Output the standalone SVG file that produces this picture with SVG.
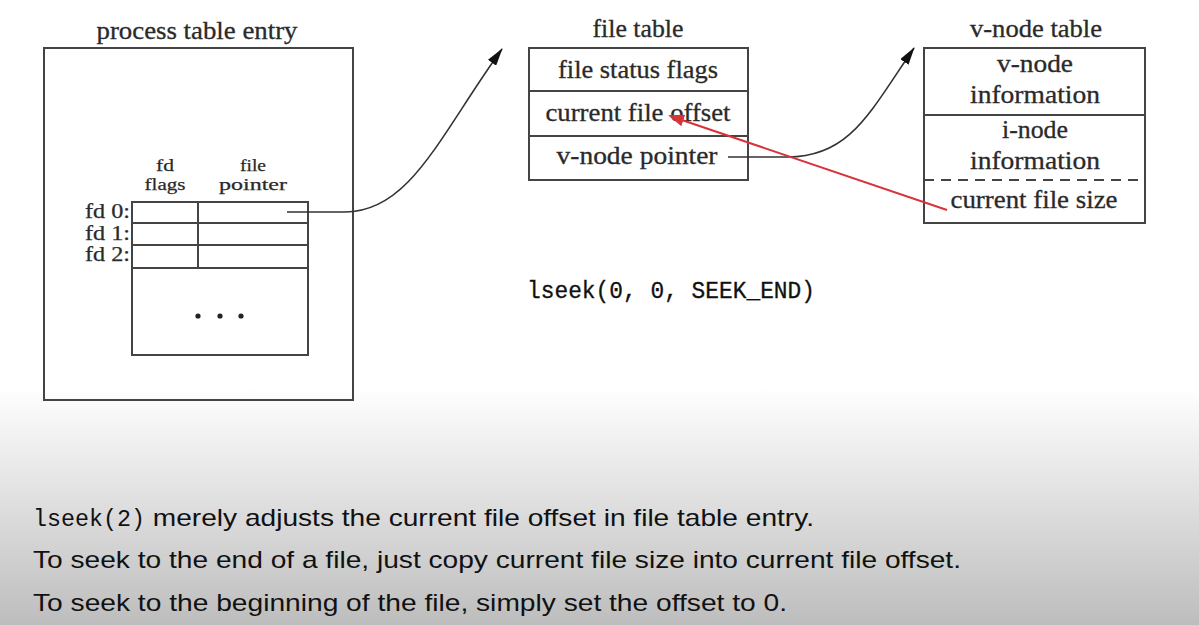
<svg xmlns="http://www.w3.org/2000/svg" width="1199" height="625" viewBox="0 0 1199 625">
<defs>
<linearGradient id="bg" x1="0" y1="0" x2="0" y2="1">
<stop offset="0" stop-color="#ffffff"/>
<stop offset="0.62" stop-color="#ffffff"/>
<stop offset="1" stop-color="#bdbdbd"/>
</linearGradient>
<marker id="ah" viewBox="0 0 18 10" refX="17" refY="5" markerWidth="18" markerHeight="10" markerUnits="userSpaceOnUse" orient="auto">
<path d="M0,0 L18,5 L0,10 Z" fill="#111"/>
</marker>
<marker id="ahr" viewBox="0 0 16 12" refX="14" refY="6" markerWidth="16" markerHeight="12" markerUnits="userSpaceOnUse" orient="auto">
<path d="M0,0 L16,6 L0,12 Z" fill="#d8323a"/>
</marker>
<style>
.box{fill:none;stroke:#444;stroke-width:2}
.ln{stroke:#444;stroke-width:2;fill:none}
.t{font-family:"Liberation Serif",serif;font-size:25px;fill:#2a2a2a;text-anchor:middle;stroke:#2a2a2a;stroke-width:0.3}
.s{font-family:"Liberation Serif",serif;font-size:17px;fill:#2a2a2a;text-anchor:middle;stroke:#2a2a2a;stroke-width:0.25}
.fd{font-family:"Liberation Serif",serif;font-size:20px;fill:#2a2a2a;text-anchor:end;stroke:#2a2a2a;stroke-width:0.25}
.conn{fill:none;stroke:#333;stroke-width:1.6}
.b{font-family:"Liberation Sans",sans-serif;font-size:24px;fill:#111}
.m{font-family:"Liberation Mono",monospace}
</style>
</defs>
<rect x="0" y="0" width="1199" height="625" fill="url(#bg)"/>

<g id="process-table">
<text class="t" x="197" y="39" textLength="201" lengthAdjust="spacingAndGlyphs">process table entry</text>
<rect class="box" x="44" y="48" width="309" height="352"/>
<text class="s" x="165" y="171" textLength="18" lengthAdjust="spacingAndGlyphs">fd</text>
<text class="s" x="165" y="190" textLength="41" lengthAdjust="spacingAndGlyphs">flags</text>
<text class="s" x="253" y="171" textLength="26" lengthAdjust="spacingAndGlyphs">file</text>
<text class="s" x="253" y="190" textLength="68" lengthAdjust="spacingAndGlyphs">pointer</text>
<rect class="box" x="132" y="202" width="176" height="153"/>
<line class="ln" x1="132" y1="223" x2="308" y2="223"/>
<line class="ln" x1="132" y1="245" x2="308" y2="245"/>
<line class="ln" x1="132" y1="268" x2="308" y2="268"/>
<line class="ln" x1="198" y1="202" x2="198" y2="268"/>
<text class="fd" x="130" y="218" textLength="45" lengthAdjust="spacingAndGlyphs">fd 0:</text>
<text class="fd" x="130" y="240" textLength="45" lengthAdjust="spacingAndGlyphs">fd 1:</text>
<text class="fd" x="130" y="261" textLength="45" lengthAdjust="spacingAndGlyphs">fd 2:</text>
<circle cx="198" cy="316" r="2.6" fill="#222"/>
<circle cx="220" cy="316" r="2.6" fill="#222"/>
<circle cx="241" cy="316" r="2.6" fill="#222"/>
</g>

<g id="file-table">
<text class="t" x="638" y="37" textLength="91" lengthAdjust="spacingAndGlyphs">file table</text>
<rect class="box" x="529" y="48" width="219" height="132"/>
<line class="ln" x1="529" y1="91" x2="748" y2="91"/>
<line class="ln" x1="529" y1="136" x2="748" y2="136"/>
<text class="t" x="638" y="78" textLength="160" lengthAdjust="spacingAndGlyphs">file status flags</text>
<text class="t" x="638" y="121" textLength="185" lengthAdjust="spacingAndGlyphs">current file offset</text>
<text class="t" x="637" y="164" textLength="161" lengthAdjust="spacingAndGlyphs">v-node pointer</text>
</g>

<g id="vnode-table">
<text class="t" x="1036" y="37" textLength="132" lengthAdjust="spacingAndGlyphs">v-node table</text>
<rect class="box" x="924" y="48" width="221" height="175"/>
<line class="ln" x1="924" y1="115" x2="1145" y2="115"/>
<line class="ln" x1="924" y1="180" x2="1145" y2="180" stroke-dasharray="10,7"/>
<text class="t" x="1035" y="72" textLength="76" lengthAdjust="spacingAndGlyphs">v-node</text>
<text class="t" x="1035" y="103" textLength="130" lengthAdjust="spacingAndGlyphs">information</text>
<text class="t" x="1035" y="138" textLength="66" lengthAdjust="spacingAndGlyphs">i-node</text>
<text class="t" x="1035" y="169" textLength="130" lengthAdjust="spacingAndGlyphs">information</text>
<text class="t" x="1034" y="208" textLength="167" lengthAdjust="spacingAndGlyphs">current file size</text>
</g>

<g id="connectors">
<path class="conn" d="M287,212 L345,212 C410,212 440,135 502,49" marker-end="url(#ah)"/>
<path class="conn" d="M728,157 L788,157 C850,157 870,112 914,48" marker-end="url(#ah)"/>
<line x1="947" y1="210" x2="670" y2="116" stroke="#d8323a" stroke-width="2" marker-end="url(#ahr)"/>
</g>

<g id="labels">
<text x="527" y="298" font-family="Liberation Mono, monospace" font-size="23" fill="#111" stroke="#111" stroke-width="0.3" textLength="288" lengthAdjust="spacingAndGlyphs">lseek(0, 0, SEEK_END)</text>
<text class="b" x="33" y="526"><tspan class="m" textLength="112" lengthAdjust="spacingAndGlyphs">lseek(2)</tspan><tspan textLength="669" lengthAdjust="spacingAndGlyphs"> merely adjusts the current file offset in file table entry.</tspan></text>
<text class="b" x="33" y="568" textLength="928" lengthAdjust="spacingAndGlyphs">To seek to the end of a file, just copy current file size into current file offset.</text>
<text class="b" x="33" y="611" textLength="754" lengthAdjust="spacingAndGlyphs">To seek to the beginning of the file, simply set the offset to 0.</text>
</g>
</svg>
